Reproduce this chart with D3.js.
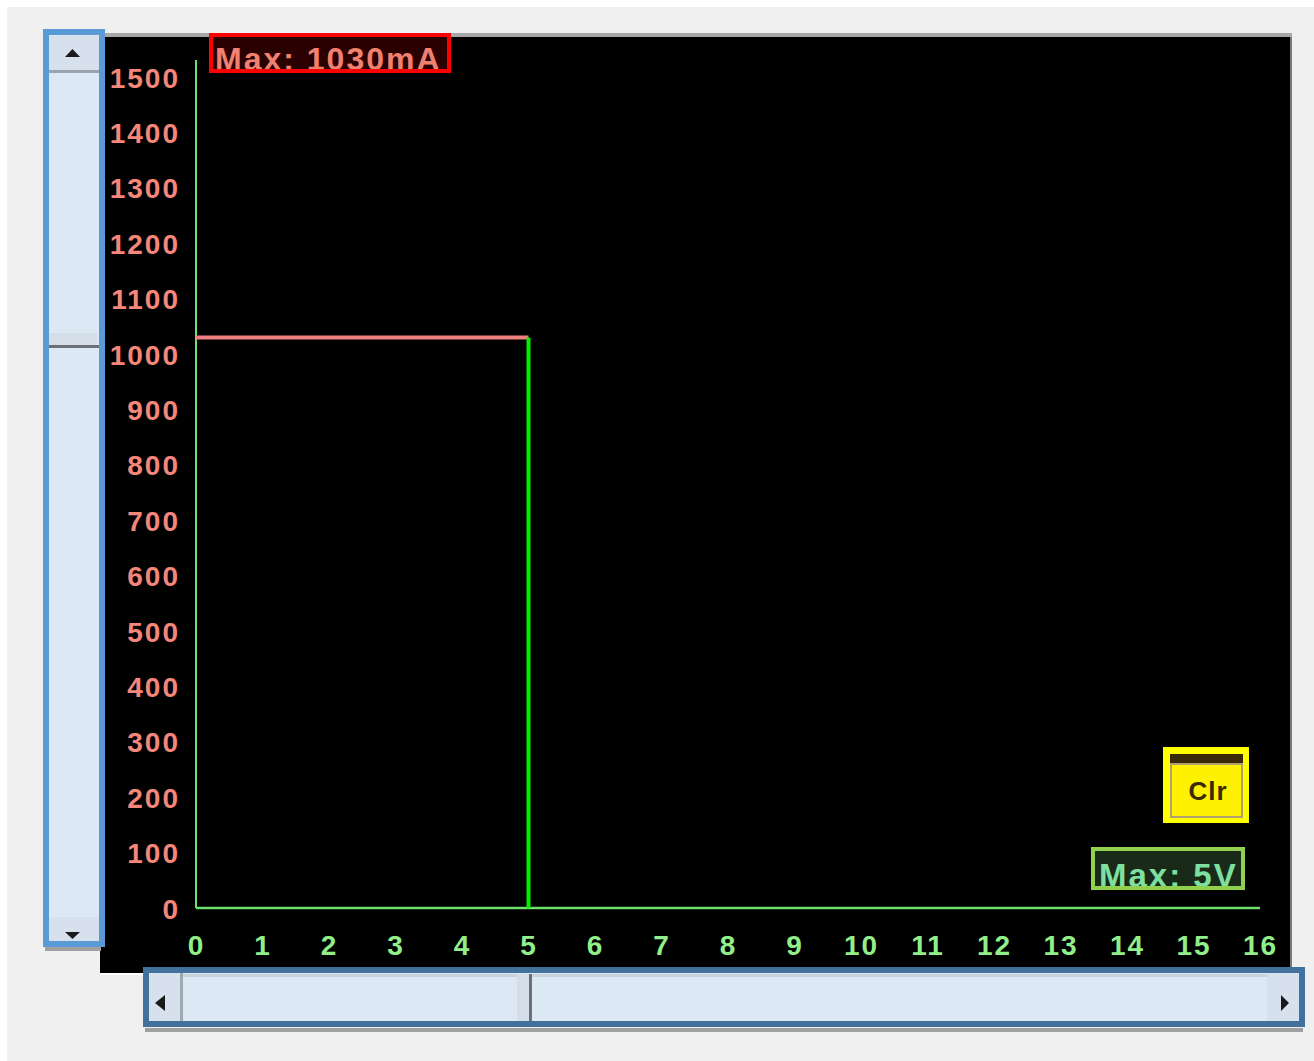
<!DOCTYPE html>
<html><head><meta charset="utf-8">
<script src="https://cdn.jsdelivr.net/npm/d3@7"></script>
<style>body{margin:0;background:#fff;}svg{display:block;}text{font-family:"Liberation Sans",Arial,sans-serif;font-weight:bold;}</style>
</head><body>
<script>
// Data
const yTicks = [0,100,200,300,400,500,600,700,800,900,1000,1100,1200,1300,1400,1500];
const xTicks = [0,1,2,3,4,5,6,7,8,9,10,11,12,13,14,15,16];
const currentSeries = [{x:0,y:1030},{x:5,y:1030}];   // mA
const voltageSeries = [{x:5,y:1030},{x:5,y:0}];      // step drop
const maxCurrentLabel = "Max: 1030mA";
const maxVoltageLabel = "Max: 5V";
const clearLabel = "Clr";

const W=1314,H=1061;
const svg=d3.select("body").append("svg").attr("width",W).attr("height",H);
svg.append("rect").attr("x",7).attr("y",7).attr("width",W-7).attr("height",H-7).attr("fill","#f0f0f0");

// chart panel
svg.append("rect").attr("x",100).attr("y",33).attr("width",1192).attr("height",4).attr("fill","#a8a8a8");
svg.append("rect").attr("x",100).attr("y",37).attr("width",1190).attr("height",936).attr("fill","#000");
svg.append("rect").attr("x",1290).attr("y",37).attr("width",2).attr("height",936).attr("fill","#7a7a7a");
svg.append("rect").attr("x",100).attr("y",973).attr("width",1192).attr("height",2).attr("fill","#ffffff");

const x=d3.scaleLinear().domain([0,16]).range([196,1260]);
const y=d3.scaleLinear().domain([0,1500]).range([908,77]);

// axes lines
const axCol="#6ee06e";
svg.append("line").attr("x1",x(0)).attr("x2",x(0)).attr("y1",60).attr("y2",y(0)).attr("stroke",axCol).attr("stroke-width",2);
svg.append("line").attr("x1",x(0)).attr("x2",x(16)).attr("y1",y(0)).attr("y2",y(0)).attr("stroke",axCol).attr("stroke-width",2.5);

// y tick labels
const yAxis=d3.axisLeft(y).tickValues(yTicks).tickSize(0).tickPadding(0).tickFormat(d3.format("d"));
const gy=svg.append("g").attr("transform","translate(180,0)").call(yAxis);
gy.select(".domain").remove();
gy.selectAll("text").attr("fill","#f4867a").attr("font-size",28).attr("font-family","Liberation Sans").attr("font-weight","bold").attr("dy","0.36em").attr("letter-spacing","2px");

// x tick labels
const xAxis=d3.axisBottom(x).tickValues(xTicks).tickSize(0).tickPadding(0).tickFormat(d3.format("d"));
const gx=svg.append("g").attr("transform","translate(0,945)").call(xAxis);
gx.select(".domain").remove();
gx.selectAll("text").attr("fill","#92ee88").attr("font-size",28).attr("font-family","Liberation Sans").attr("font-weight","bold").attr("dy","0.36em").attr("letter-spacing","2px");

// data lines
const line=d3.line().x(d=>x(d.x)).y(d=>y(d.y));
svg.append("path").attr("d",line(currentSeries)).attr("stroke","#f08080").attr("stroke-width",4).attr("fill","none");
svg.append("path").attr("d",line(voltageSeries)).attr("stroke","#00f000").attr("stroke-width",4).attr("fill","none");

// Max current label
const mc=svg.append("g");
mc.append("rect").attr("x",211).attr("y",35).attr("width",238).attr("height",36).attr("fill","#2a0000").attr("stroke","#ff0000").attr("stroke-width",4);
mc.append("clipPath").attr("id","c1").append("rect").attr("x",213).attr("y",37).attr("width",234).attr("height",32);
mc.append("text").attr("clip-path","url(#c1)").attr("x",215).attr("y",70).attr("fill","#f08070").attr("font-size",32).attr("letter-spacing","2px").text(maxCurrentLabel);

// Max voltage label
const mv=svg.append("g");
mv.append("rect").attr("x",1093).attr("y",849).attr("width",150).attr("height",39).attr("fill","#1a2a18").attr("stroke","#92d050").attr("stroke-width",4);
mv.append("clipPath").attr("id","c2").append("rect").attr("x",1095).attr("y",851).attr("width",146).attr("height",35);
mv.append("text").attr("clip-path","url(#c2)").attr("x",1099).attr("y",887).attr("fill","#7ee0a0").attr("font-size",33).attr("letter-spacing","2px").text(maxVoltageLabel);

// Clr button
const cb=svg.append("g");
cb.append("rect").attr("x",1165).attr("y",749).attr("width",82).attr("height",72).attr("fill","#ffff00").attr("stroke","#ffff00").attr("stroke-width",4);
cb.append("rect").attr("x",1170).attr("y",754).attr("width",73).attr("height",10).attr("fill","#3a2a05");
cb.append("rect").attr("x",1171).attr("y",764).attr("width",71).attr("height",53).attr("fill","#fff200").attr("stroke","#b0a070").attr("stroke-width",2);
cb.append("text").attr("x",1208).attr("y",800).attr("text-anchor","middle").attr("fill","#3a2a00").attr("font-size",26).attr("letter-spacing","1px").text(clearLabel);

// vertical scrollbar
const vs=svg.append("g");
vs.append("rect").attr("x",45).attr("y",947).attr("width",56).attr("height",4).attr("fill","#a0a0a0");
vs.append("rect").attr("x",46).attr("y",32).attr("width",56).attr("height",912).attr("fill","#dde8f5").attr("stroke","#5b9bd5").attr("stroke-width",6);
vs.append("rect").attr("x",49).attr("y",36).attr("width",50).attr("height",34).attr("fill","#d6e1ed");
vs.append("rect").attr("x",49).attr("y",70).attr("width",50).attr("height",3).attr("fill","#9aa4ae");
vs.append("path").attr("d","M65,57 L80,57 L72.5,49 Z").attr("fill","#1a1a1a");
vs.append("rect").attr("x",49).attr("y",333).attr("width",48).attr("height",12).attr("fill","#d4dde8");
vs.append("rect").attr("x",49).attr("y",345).attr("width",50).attr("height",3).attr("fill","#6b7078");
vs.append("rect").attr("x",49).attr("y",917).attr("width",50).attr("height",24).attr("fill","#d6e1ed");
vs.append("path").attr("d","M65,932 L80,932 L72.5,939 Z").attr("fill","#1a1a1a");

// horizontal scrollbar
const hs=svg.append("g");
hs.append("rect").attr("x",145).attr("y",1028).attr("width",1158).attr("height",4).attr("fill","#a0a0a0");
hs.append("rect").attr("x",146).attr("y",970).attr("width",1156).attr("height",54).attr("fill","#dde8f5").attr("stroke","#41719c").attr("stroke-width",6);
hs.append("rect").attr("x",149).attr("y",973).attr("width",31).attr("height",48).attr("fill","#d6e1ed");
hs.append("rect").attr("x",180).attr("y",973).attr("width",3).attr("height",48).attr("fill","#a0a8b0");
hs.append("path").attr("d","M155,1003 L165,995 L165,1011 Z").attr("fill","#1a1a1a");
hs.append("rect").attr("x",183).attr("y",974).attr("width",1084).attr("height",3).attr("fill","#c8d2dc");
hs.append("rect").attr("x",517).attr("y",974).attr("width",12).attr("height",47).attr("fill","#d4dde8");
hs.append("rect").attr("x",529).attr("y",974).attr("width",3).attr("height",47).attr("fill","#6b7078");
hs.append("rect").attr("x",1267).attr("y",973).attr("width",32).attr("height",48).attr("fill","#d6e1ed");
hs.append("path").attr("d","M1281,995 L1289,1003 L1281,1011 Z").attr("fill","#1a1a1a");
</script>
</body></html>
